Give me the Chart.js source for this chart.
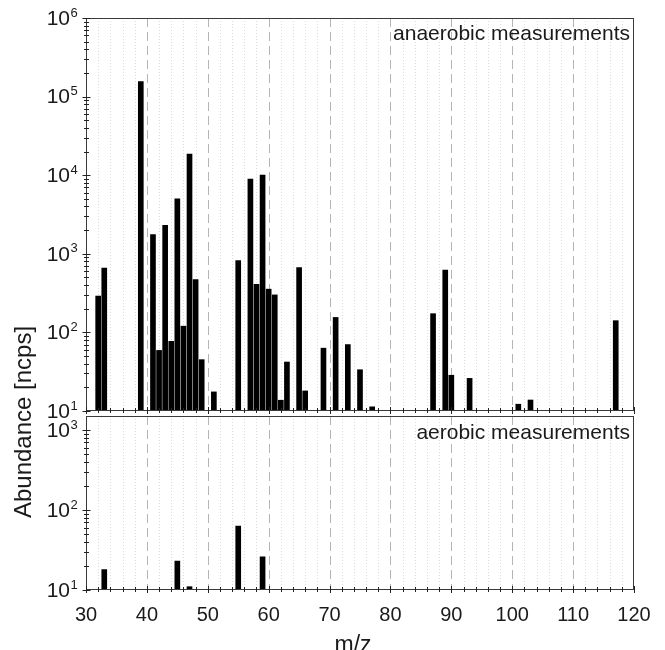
<!DOCTYPE html>
<html>
<head>
<meta charset="utf-8">
<title>m/z abundance</title>
<script src="https://cdn.jsdelivr.net/npm/chart.js@4.4.1/dist/chart.umd.min.js"></script>
<style>
  html, body { margin: 0; padding: 0; background: #fff; }
  #wrap { position: relative; width: 665px; height: 650px; overflow: hidden;
          font-family: "Liberation Sans", Arial, sans-serif; color: #1a1a1a; }
  #wrap canvas { position: absolute; left: 0; }
  #c-top { top: 0; }
  #c-bot { top: 414px; }
  .lbl { position: absolute; white-space: nowrap; }
  .note { font-size: 21px; line-height: 21px; right: 35px; }
  #ytitle { left: -107px; top: 410px; width: 260px; height: 24px; line-height: 24px;
            font-size: 24px; text-align: center; transform: rotate(-90deg); }
  #xtitle { left: 303px; width: 100px; top: 633px; font-size: 23px; line-height: 23px; text-align: center; }
</style>
</head>
<body>
<div id="wrap">
  <canvas id="c-top" width="665" height="426" style="width:665px;height:426px"></canvas>
  <canvas id="c-bot" width="665" height="236" style="width:665px;height:236px"></canvas>
  <div class="lbl note" style="top:22px">anaerobic measurements</div>
  <div class="lbl note" style="top:421px">aerobic measurements</div>
  <div class="lbl" id="ytitle">Abundance [ncps]</div>
  <div class="lbl" id="xtitle">m/z</div>
</div>
<script>
(function () {
  'use strict';

  /* data */
  var mzAnaerobic = [32, 33, 39, 41, 42, 43, 44, 45, 46, 47, 48, 49, 51, 55, 57, 58, 59, 60, 61, 62,
                     63, 65, 66, 69, 71, 73, 75, 77, 87, 89, 90, 93, 101, 103, 117];
  var abAnaerobic = [290, 660, 155000, 1750, 59, 2300, 77, 5000, 120, 18500, 470, 45, 17.5, 820, 8900, 410, 10000, 355, 300, 13.7,
                     42, 670, 18, 63, 155, 70, 33.5, 11.3, 173, 620, 28.5, 26, 12.2, 13.8, 141];
  var mzAerobic = [33, 45, 47, 55, 59];
  var abAerobic = [18, 23, 11, 63, 26];

  /* axes */
  var xMin = 30, xMax = 120, xMajor = 10, xMinor = 2;
  var yExpTop = [1, 2, 3, 4, 5, 6];
  var yExpBottom = [1, 2, 3];
  var yMaxTop = 1e6, yMaxBottom = 1500, yMin = 10;

  var FONT = '"Liberation Sans", Arial, sans-serif';
  var FRAME = '#3a3a3a';

  function pts(xs, ys) { return xs.map(function (x, i) { return { x: x, y: ys[i] }; }); }

  /* grid, frame, crossing ticks and 10^n labels */
  var panelAxes = {
    id: 'panelAxes',
    beforeDatasetsDraw: function (chart) {
      var ctx = chart.ctx, a = chart.chartArea, xs = chart.scales.x;
      ctx.save();
      ctx.lineWidth = 1;
      for (var v = xMin + xMinor; v < xMax; v += xMinor) {
        var px = Math.round(xs.getPixelForValue(v)) + 0.5;
        if (v % xMajor === 0) { ctx.strokeStyle = '#b4b4b4'; ctx.setLineDash([9, 5]); }
        else { ctx.strokeStyle = '#dcdcdc'; ctx.setLineDash([1, 2]); }
        ctx.beginPath(); ctx.moveTo(px, a.top); ctx.lineTo(px, a.bottom); ctx.stroke();
      }
      ctx.restore();
    },
    afterDatasetsDraw: function (chart, args, opts) {
      var ctx = chart.ctx, a = chart.chartArea, xs = chart.scales.x, ys = chart.scales.y;
      var L = a.left + 0.5, R = a.right - 0.5, T = a.top + 0.5, B = a.bottom - 0.5;
      ctx.save();
      ctx.setLineDash([]);
      ctx.strokeStyle = FRAME; ctx.lineWidth = 1;
      ctx.strokeRect(L, T, R - L, B - T);
      ctx.strokeStyle = '#222';
      ctx.beginPath();
      // x ticks across the bottom axis
      for (var v = xMin; v <= xMax; v += xMinor) {
        var px = Math.round(xs.getPixelForValue(v)) + 0.5;
        var h = (v % xMajor === 0) ? 3.5 : 2.5;
        ctx.moveTo(px, B - h); ctx.lineTo(px, B + h);
      }
      // y log ticks across the left axis
      var exps = opts.exps;
      for (var e = exps[0]; e <= exps[exps.length - 1] + 1; e++) {
        for (var m = 1; m <= 9; m++) {
          var val = m * Math.pow(10, e);
          if (val < ys.min || val > ys.max) continue;
          var py = Math.round(ys.getPixelForValue(val)) + 0.5;
          var w = (m === 1) ? 4 : 2.5;
          ctx.moveTo(L - w, py); ctx.lineTo(L + w, py);
        }
      }
      ctx.stroke();
      // 10^n labels
      ctx.fillStyle = '#1a1a1a';
      exps.forEach(function (n) {
        var py = ys.getPixelForValue(Math.pow(10, n));
        ctx.font = '21px ' + FONT;
        ctx.textAlign = 'right'; ctx.textBaseline = 'middle';
        ctx.fillText('10', 70, py + 1);
        ctx.font = '13px ' + FONT;
        ctx.textAlign = 'left';
        ctx.fillText(String(n), 70.5, py - 5);
      });
      ctx.restore();
    }
  };

  function barSet(data) {
    return {
      data: data,
      backgroundColor: '#000',
      borderWidth: 0,
      barThickness: 5,
      base: yMin
    };
  }

  function xScale(show) {
    var s = {
      type: 'linear', min: xMin, max: xMax, offset: false,
      display: show,
      grid: { display: false, offset: false },
      border: { display: false },
      ticks: { stepSize: xMajor, color: '#1a1a1a', padding: 5, maxRotation: 0,
               font: { family: FONT, size: 20 } }
    };
    if (show) s.afterFit = function (sc) { sc.height = 60; };
    return s;
  }

  function yScale(max) {
    return { type: 'logarithmic', min: yMin, max: max, display: false };
  }

  var common = {
    responsive: false,
    animation: false,
    devicePixelRatio: 1,
    plugins: { legend: { display: false }, tooltip: { enabled: false } }
  };

  new Chart(document.getElementById('c-top'), {
    type: 'bar',
    data: { datasets: [barSet(pts(mzAnaerobic, abAnaerobic))] },
    options: Object.assign({}, common, {
      layout: { padding: { left: 86, right: 31, top: 18, bottom: 15 } },
      scales: { x: xScale(false), y: yScale(yMaxTop) },
      plugins: Object.assign({}, common.plugins, { panelAxes: { exps: yExpTop } })
    }),
    plugins: [panelAxes]
  });

  new Chart(document.getElementById('c-bot'), {
    type: 'bar',
    data: { datasets: [barSet(pts(mzAerobic, abAerobic))] },
    options: Object.assign({}, common, {
      layout: { padding: { left: 86, right: 31, top: 2, bottom: 0 } },
      scales: { x: xScale(true), y: yScale(yMaxBottom) },
      plugins: Object.assign({}, common.plugins, { panelAxes: { exps: yExpBottom } })
    }),
    plugins: [panelAxes]
  });
})();
</script>
</body>
</html>
